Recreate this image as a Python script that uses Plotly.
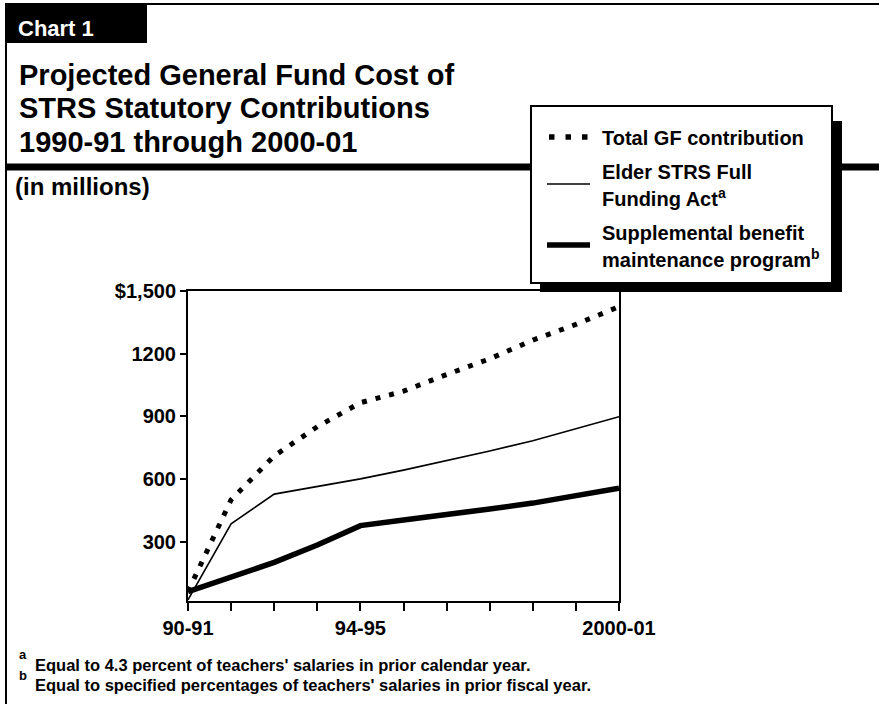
import plotly.graph_objects as go

# ---- data ----
years = ["90-91", "91-92", "92-93", "93-94", "94-95", "95-96",
         "96-97", "97-98", "98-99", "99-00", "2000-01"]
labelled_years = ["90-91", "94-95", "2000-01"]
total_gf = [60, 500, 710, 850, 965, 1020, 1100, 1175, 1265, 1340, 1425]
elder = [20, 385, 527, 562, 600, 642, 687, 734, 783, 841, 898]
sbmp = [60, 130, 200, 283, 376, 403, 427, 456, 484, 518, 555]
y_tickvals = [300, 600, 900, 1200, 1500]
y_ticktext = ["300", "600", "900", "1200", "$1,500"]

W, H = 879, 704
L, R, T, B = 188, 619, 291, 601
FONT = "Liberation Sans, Arial, Helvetica, sans-serif"


def xp(px):
    return (px - L) / (R - L)


def yp(py):
    return (B - py) / (B - T)


xs = list(range(len(years)))

fig = go.Figure()
fig.add_trace(go.Scatter(x=xs, y=total_gf, mode="lines", name="Total GF contribution",
                         line=dict(color="black", width=5, dash="5px,9px")))
fig.add_trace(go.Scatter(x=xs, y=elder, mode="lines", name="Elder STRS Full Funding Act",
                         line=dict(color="black", width=1.6)))
fig.add_trace(go.Scatter(x=xs, y=sbmp, mode="lines",
                         name="Supplemental benefit maintenance program",
                         line=dict(color="black", width=5.5)))

shapes = []


def line(x0, y0, x1, y1, w, dash=None):
    d = dict(type="line", xref="paper", yref="paper",
             x0=xp(x0), y0=yp(y0), x1=xp(x1), y1=yp(y1),
             line=dict(color="black", width=w))
    if dash:
        d["line"]["dash"] = dash
    shapes.append(d)


def rect(x0, y0, x1, y1, fill, lw=0):
    shapes.append(dict(type="rect", xref="paper", yref="paper",
                       x0=xp(x0), y0=yp(y0), x1=xp(x1), y1=yp(y1),
                       fillcolor=fill, line=dict(color="black", width=lw)))


# frame / header
line(5, 4, 879, 4, 2)
line(6, 4, 6, 704, 2)
rect(5, 5, 147, 43, "black")
line(5, 167, 879, 167, 7)
# legend box with shadow
rect(540, 121, 842, 292, "black")
rect(531, 106, 832, 283, "white", 2)
line(549, 137, 592, 137, 5.5, "5.5px,11px")
line(547, 184, 590, 184, 1.6)
line(547, 245, 590, 245, 5.5)

annotations = []


def text(s, x, y, size, color="black"):
    annotations.append(dict(text=s, xref="paper", yref="paper", x=xp(x), y=yp(y),
                            xanchor="left", yanchor="middle", showarrow=False,
                            font=dict(family=FONT, size=size, color=color, weight="bold")))


text("Chart 1", 16, 28, 22, "white")
text("Projected General Fund Cost of", 17, 75, 29)
text("STRS Statutory Contributions", 17, 108, 29)
text("1990-91 through 2000-01", 17, 142, 29)
text("(in millions)", 13, 186, 24)
text("Total GF contribution", 600, 138, 20)
text("Elder STRS Full", 600, 172, 20)
text("Funding Act<sup>a</sup>", 600, 197, 20)
text("Supplemental benefit", 600, 233, 20)
text("maintenance program<sup>b</sup>", 600, 258, 20)
text("a", 17, 654, 13)
text("Equal to 4.3 percent of teachers' salaries in prior calendar year.", 33, 665, 16.5)
text("b", 17, 675, 13)
text("Equal to specified percentages of teachers' salaries in prior fiscal year.", 33, 685, 16.5)

fig.update_layout(
    width=W, height=H, autosize=False,
    margin=dict(l=L, r=W - R, t=T, b=H - B, pad=0),
    paper_bgcolor="white", plot_bgcolor="white",
    showlegend=False,
    shapes=shapes, annotations=annotations,
    font=dict(family=FONT, color="black"),
)
fig.update_xaxes(range=[0, len(years) - 1], tickvals=xs,
                 ticktext=[y if y in labelled_years else "" for y in years],
                 showgrid=False, zeroline=False, showline=True, mirror=True,
                 linecolor="black", linewidth=2, ticks="outside", ticklen=8,
                 tickwidth=2, tickcolor="black",
                 tickfont=dict(family=FONT, size=20, color="black", weight="bold"))
fig.update_yaxes(range=[15, 1500], tickvals=y_tickvals, ticktext=y_ticktext,
                 showgrid=False, zeroline=False, showline=True, mirror=True,
                 linecolor="black", linewidth=2, ticks="outside", ticklen=6,
                 tickwidth=2, tickcolor="black",
                 tickfont=dict(family=FONT, size=20, color="black", weight="bold"))

fig.write_html("out.html")
